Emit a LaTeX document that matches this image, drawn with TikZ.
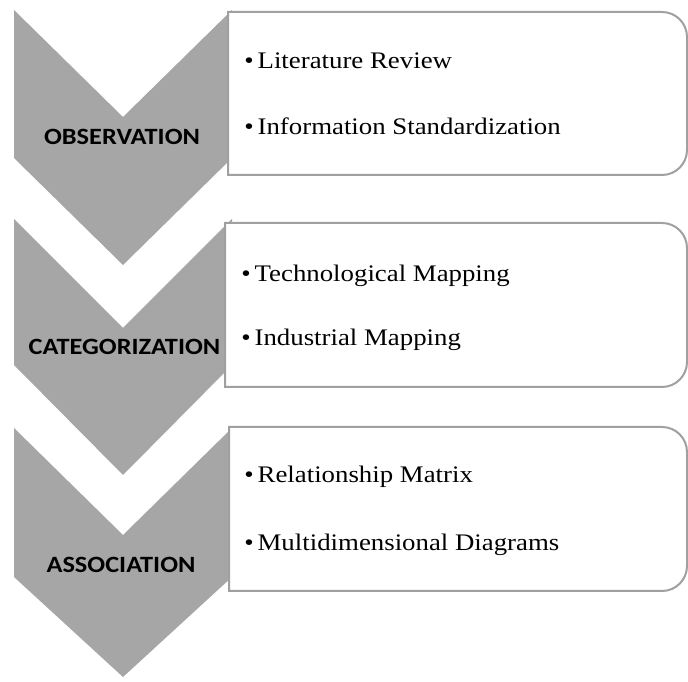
\documentclass[tikz,border=0pt]{standalone}
\usepackage{fontspec}
\setmainfont{Liberation Serif}
\newfontfamily\stagefont{Carlito}[FakeStretch=1.13]
\newfontfamily\itemfont{Liberation Serif}[FakeStretch=1.13]
\definecolor{stagegray}{HTML}{A6A6A6}
\definecolor{framegray}{HTML}{A0A0A0}

\begin{document}
\begin{tikzpicture}[x=0.75pt, y=0.75pt,
	stage/.style={anchor=base, inner sep=0pt, font=\stagefont\bfseries\fontsize{17.5}{20}\selectfont},
	item/.style={anchor=base west, inner sep=0pt, font=\itemfont\fontsize{17.8}{21}\selectfont},
	frame/.style={draw=framegray, line width=1.5pt, fill=white}]
	\useasboundingbox (0,0) rectangle (688,681);

	% chevrons
	\fill[stagegray] (14,671) -- (123,564) -- (232,671) -- (232,523) -- (123,416) -- (14,523) -- cycle;
	\fill[stagegray] (14,462) -- (123,353) -- (232,462) -- (232,316) -- (123,206) -- (14,316) -- cycle;
	\fill[stagegray] (14,253) -- (123,146) -- (232,253) -- (232,104) -- (123,4) -- (14,104) -- cycle;

	% boxes, square on the left and rounded on the right
	\draw[frame] (228,669) -- (662,669) arc (90:0:25) -- (687,531) arc (0:-90:25) -- (228,506) -- cycle;
	\draw[frame] (225,458) -- (662,458) arc (90:0:25) -- (687,319) arc (0:-90:25) -- (225,294) -- cycle;
	\draw[frame] (229,254) -- (662,254) arc (90:0:25) -- (687,115) arc (0:-90:25) -- (229,90) -- cycle;

	\node[stage] (obs) at (122,536) {OBSERVATION};
	\node[stage] (cat) at (124.5,326) {CATEGORIZATION};
	\node[stage] (ass) at (121,108) {ASSOCIATION};

	\node[item] (lit) at (244,612) {\textbullet\kern3pt Literature Review};
	\node[item] (inf) at (244,546) {\textbullet\kern3pt Information Standardization};
	\node[item] (tec) at (241,399) {\textbullet\kern3pt Technological Mapping};
	\node[item] (ind) at (241,335.5) {\textbullet\kern3pt Industrial Mapping};
	\node[item] (rel) at (244,198) {\textbullet\kern3pt Relationship Matrix};
	\node[item] (mul) at (244,130.5) {\textbullet\kern3pt Multidimensional Diagrams};
\end{tikzpicture}
\end{document}
